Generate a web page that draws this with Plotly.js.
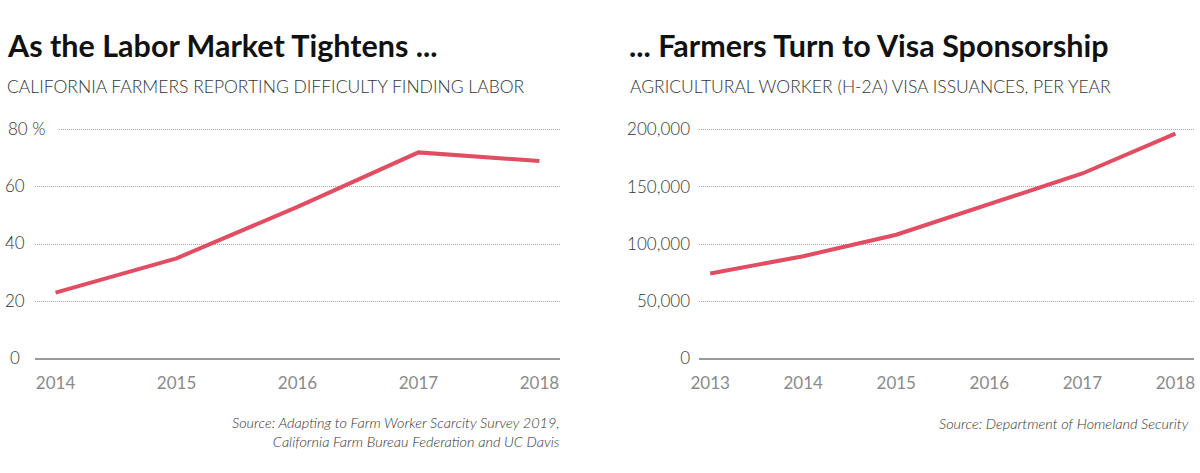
<!DOCTYPE html>
<html><head><meta charset="utf-8">
<script src="https://cdn.plot.ly/plotly-3.0.1.min.js"></script>
<style>html,body{margin:0;padding:0;background:#fff}#chart{width:1200px;height:473px}</style>
</head><body><div id="chart"></div>
<script>
// ---- data ----
const yearsLeft = [2014, 2015, 2016, 2017, 2018];
const pctDifficulty = [23, 35, 53, 72, 69];
const yearsRight = [2013, 2014, 2015, 2016, 2017, 2018];
const h2aVisas = [74200, 89300, 108100, 134400, 161600, 196400];
const leftTickVals = [0, 20, 40, 60, 80];
const leftTickText = ['0', '20', '40', '60', '80 %'];
const rightTickVals = [0, 50000, 100000, 150000, 200000];
const rightTickText = ['0', '50,000', '100,000', '150,000', '200,000'];
const titleLeft = 'As the Labor Market Tightens ...';
const titleRight = '... Farmers Turn to Visa Sponsorship';
const subLeft = 'CALIFORNIA FARMERS REPORTING DIFFICULTY FINDING LABOR';
const subRight = 'AGRICULTURAL WORKER (H-2A) VISA ISSUANCES, PER YEAR';
const srcLeft = 'Source: Adapting to Farm Worker Scarcity Survey 2019,<br>California Farm Bureau Federation and UC Davis';
const srcRight = 'Source: Department of Homeland Security';

// ---- layout helpers ----
const W = 1200, H = 473;
const px = x => x / W;
const py = y => 1 - y / H;
const FONT = 'Lato, "Open Sans", sans-serif';
const LINE = '#e14d62';
const Y0 = 358.5, YTOP = 129.5;         // pixel rows of 0 and top tick
const EXT = 1.03;                        // range headroom so top gridline shows
const yDom = [py(Y0), py(Y0 - EXT * (Y0 - YTOP))];

const traces = [
  {x: yearsLeft, y: pctDifficulty, xaxis: 'x', yaxis: 'y', mode: 'lines',
   line: {color: LINE, width: 4}, hoverinfo: 'skip', cliponaxis: false},
  {x: yearsRight, y: h2aVisas, xaxis: 'x2', yaxis: 'y2', mode: 'lines',
   line: {color: LINE, width: 4}, hoverinfo: 'skip', cliponaxis: false}
];

const gridCommon = {gridcolor: '#a8a8a8', gridwidth: 1, griddash: '1px,1px',
  zeroline: true, zerolinecolor: '#999999', zerolinewidth: 2,
  showline: false, ticks: '', fixedrange: true};
const xCommon = {showgrid: false, zeroline: false, showline: false, ticks: '',
  tickfont: {family: FONT, size: 17, color: '#8a8a8a'}, ticklabelstandoff: 12, fixedrange: true};

const annotations = [];
function txt(x, y, text, opts) {
  annotations.push(Object.assign({xref: 'paper', yref: 'paper', x: px(x), y: py(y),
    text: text, showarrow: false, xanchor: 'left', yanchor: 'middle'}, opts));
}
txt(5, 45, titleLeft, {font: {family: FONT, size: 30.5, color: '#111', weight: 700}});
txt(627, 45, titleRight, {font: {family: FONT, size: 30.5, color: '#111', weight: 700}});
txt(5, 86, subLeft, {font: {family: FONT, size: 17.5, color: '#333', weight: 300}});
txt(628, 86, subRight, {font: {family: FONT, size: 17.5, color: '#333', weight: 300}});
txt(562, 432, srcLeft, {xanchor: 'right', align: 'right',
  font: {family: FONT, size: 14.5, color: '#333', style: 'italic', weight: 300}});
txt(1191, 423, srcRight, {xanchor: 'right', align: 'right',
  font: {family: FONT, size: 14.5, color: '#333', style: 'italic', weight: 300}});

// left y tick labels (left-aligned, drawn from the left axis tick arrays)
leftTickVals.forEach((v, i) => {
  const isTop = leftTickText[i].indexOf('%') >= 0;
  annotations.push({xref: 'paper', yref: 'y', x: px(isTop ? 6 : 15), y: v,
    text: leftTickText[i], showarrow: false, xanchor: isTop ? 'left' : 'center', yanchor: 'middle',
    yshift: 1, align: 'left', bgcolor: isTop ? '#ffffff' : 'rgba(0,0,0,0)',
    width: isTop ? 49 : null, borderpad: 1,
    font: {family: FONT, size: 17, color: '#333', weight: 300}});
});

const layout = {
  width: W, height: H, margin: {l: 0, r: 0, t: 0, b: 0},
  paper_bgcolor: '#fff', plot_bgcolor: '#fff', showlegend: false,
  xaxis: Object.assign({}, xCommon, {domain: [px(35), px(560)], range: [2013.83, 2018.17],
    tickvals: yearsLeft, anchor: 'y'}),
  yaxis: Object.assign({}, gridCommon, {domain: yDom, range: [0, 80 * EXT], tickvals: leftTickVals,
    showticklabels: false, anchor: 'x'}),
  xaxis2: Object.assign({}, xCommon, {domain: [px(699), px(1194)], range: [2012.88, 2018.2],
    tickvals: yearsRight, anchor: 'y2'}),
  yaxis2: Object.assign({}, gridCommon, {domain: yDom, range: [0, 200000 * EXT], tickvals: rightTickVals,
    ticktext: rightTickText, anchor: 'x2', ticklabelstandoff: 8,
    tickfont: {family: FONT, size: 17, color: '#333', weight: 300}}),
  annotations: annotations
};

Plotly.newPlot('chart', traces, layout, {displayModeBar: false, staticPlot: true});
</script>
</body></html>
